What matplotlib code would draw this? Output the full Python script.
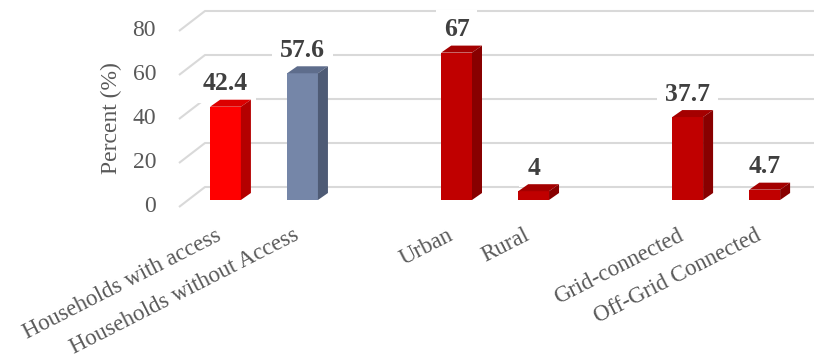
import matplotlib
matplotlib.use("Agg")
import matplotlib.pyplot as plt
from matplotlib.patches import Polygon

# Data
categories = ["Households with access", "Households without Access",
              "Urban", "Rural",
              "Grid-connected", "Off-Grid Connected"]
values = [42.4, 57.6, 67, 4, 37.7, 4.7]
yticks = [0, 20, 40, 60, 80]

# Face colours: (front, top, side)
face_colors = [
    ("#ff0000", "#dc0000", "#b40000"),
    ("#7586a8", "#5e6d8c", "#4e5b75"),
    ("#c00000", "#a40000", "#880000"),
    ("#c00000", "#a40000", "#880000"),
    ("#c00000", "#a40000", "#880000"),
    ("#c00000", "#a40000", "#880000"),
]

# Bars come in pairs with an empty slot between groups
positions = [i + i // 2 for i in range(len(categories))]

W, H, DPI = 814, 361, 100
fig = plt.figure(figsize=(W / DPI, H / DPI), dpi=DPI)
fig.patch.set_facecolor("white")

x0, x1 = -0.5, 7.64
y0, y1 = 0, 80
ax_left, ax_w = 187 / W, 627 / W
ax_bottom, ax_h = 161 / H, 176 / H
ax = fig.add_axes([ax_left, ax_bottom, ax_w, ax_h])
ax.set_xlim(x0, x1)
ax.set_ylim(y0, y1)
ax.axis("off")

px_x = ax_w * W / (x1 - x0)   # pixels per x unit
px_y = ax_h * H / (y1 - y0)   # pixels per y unit

def dx(p):
    return p / px_x

def dy(p):
    return p / px_y

serif = ["Liberation Serif", "DejaVu Serif"]
grid_color = "#d9d9d9"

# Back wall / floor gridlines with perspective on the left wall
for v in yticks:
    xs = [x0 + dx(-8), x0 + dx(18), x1 + 1]
    ys = [v - dy(7), v + dy(13), v + dy(13)]
    ax.plot(xs, ys, color=grid_color, lw=1.5, clip_on=False, zorder=1,
            solid_capstyle="butt")
    ax.text(x0 + dx(-31), v - dy(6), f"{v}", ha="right", va="center",
            fontsize=17, color="#595959", family=serif)

# 3D bars
bw = 0.4
ddx, ddy = dx(10), dy(7)
for pos, val, (cf, ct, cs) in zip(positions, values, face_colors):
    l, r = pos - bw / 2, pos + bw / 2
    ax.bar(pos, val, width=bw, color=cf, edgecolor="none", zorder=3)
    top = Polygon([(l, val), (r, val), (r + ddx, val + ddy), (l + ddx, val + ddy)],
                  closed=True, facecolor=ct, edgecolor="none", zorder=3,
                  clip_on=False)
    side = Polygon([(r, 0), (r + ddx, ddy), (r + ddx, val + ddy), (r, val)],
                   closed=True, facecolor=cs, edgecolor="none", zorder=3,
                   clip_on=False)
    ax.add_patch(top)
    ax.add_patch(side)
    # value label; its white box only masks the gridlines behind it
    ax.text(pos, val + dy(23), f"{val:g}", ha="center", va="center",
            fontsize=18.5, fontweight="bold", color="#404040", family=serif,
            zorder=2, clip_on=False,
            bbox=dict(boxstyle="square,pad=0.3", facecolor="white",
                      edgecolor="none"))

# Category labels
for pos, cat in zip(positions, categories):
    ax.text(pos - dx(10), -dy(25), cat, ha="right", va="top", rotation=27,
            rotation_mode="anchor", fontsize=16.5, color="#595959",
            family=serif, clip_on=False)

fig.text(111 / W, 1 - 118 / H, "Percent (%)", rotation=90, ha="center",
         va="center", fontsize=17, color="#595959", family=serif)

fig.savefig("out.png", dpi=DPI, facecolor="white")
